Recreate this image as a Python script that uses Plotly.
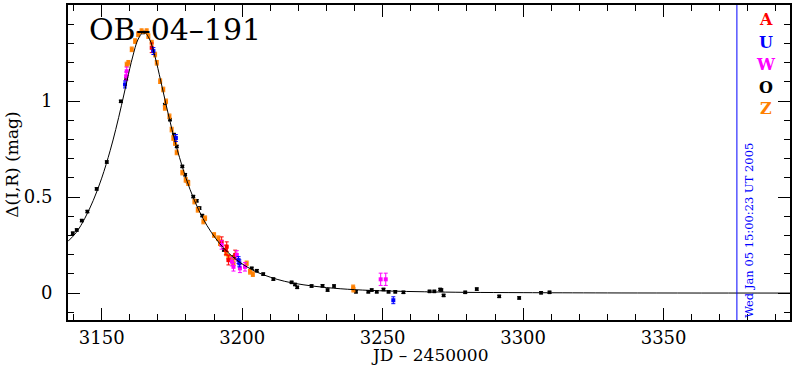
import plotly.graph_objects as go

# model light curve
model_t = [3138, 3141, 3144, 3147, 3150, 3153, 3155, 3157, 3159, 3161, 3163, 3165, 3167, 3169, 3171,
           3173, 3175, 3177, 3180, 3183, 3186, 3189, 3192, 3195, 3198, 3201, 3205, 3210, 3215, 3222,
           3230, 3240, 3252, 3265, 3280, 3300, 3330, 3395]
model_m = [0.270, 0.317, 0.390, 0.483, 0.599, 0.742, 0.853, 0.976, 1.106, 1.230, 1.324, 1.360, 1.324,
           1.230, 1.106, 0.976, 0.853, 0.742, 0.599, 0.483, 0.390, 0.317, 0.258, 0.211, 0.173, 0.143,
           0.111, 0.083, 0.062, 0.043, 0.029, 0.018, 0.011, 0.007, 0.004, 0.0025, 0.001, 0.0003]

# OGLE (O)
o_t = [3139.7, 3141.1, 3142.9, 3144.9, 3148.2, 3151.8, 3156.8, 3158.7, 3164.7, 3172.5, 3174.3, 3175.7,
       3176.7, 3178.7, 3179.7, 3180.6, 3182.6, 3183.8, 3184.8, 3185.8, 3193.5, 3197.1, 3203.4, 3205.2,
       3207.5, 3211.1, 3217.6, 3218.8, 3219.6, 3224.7, 3228.6, 3230.4, 3232.7, 3240.5, 3244.9, 3246.1,
       3247.9, 3250.3, 3252.1, 3254.5, 3257.4, 3266.7, 3268.4, 3270.5, 3270.9, 3271.7, 3279.4, 3283.5,
       3291.5, 3298.6, 3306.4, 3309.4]
o_m = [0.312, 0.329, 0.378, 0.425, 0.543, 0.683, 0.999, 1.117, 1.358, 0.982, 0.904, 0.826, 0.764, 0.660,
       0.617, 0.581, 0.503, 0.481, 0.443, 0.404, 0.225, 0.190, 0.129, 0.117, 0.099, 0.073, 0.056, 0.045,
       0.030, 0.037, 0.038, 0.016, 0.037, 0.007, 0.007, 0.016, 0.007, 0.019, 0.007, 0.007, 0.004, 0.009,
       0.009, 0.019, 0.016, -0.012, 0.004, 0.021, -0.017, -0.025, 0.002, 0.004]

# Z (orange)
z_t = [3158.9, 3159.5, 3160.7, 3161.9, 3163.0, 3164.2, 3166.0, 3166.6, 3167.8, 3169.0, 3169.6, 3170.8,
       3171.9, 3172.9, 3172.5, 3174.1, 3174.9, 3175.5, 3176.1, 3176.7, 3178.7, 3179.9, 3180.8, 3183.0,
       3184.2, 3186.8, 3186.2, 3190.0, 3191.5, 3192.1, 3194.3, 3195.1, 3196.3, 3196.9, 3201.6, 3202.8,
       3203.8, 3239.5, 3239.6]
z_m = [1.191, 1.200, 1.270, 1.313, 1.348, 1.365, 1.365, 1.339, 1.305, 1.243, 1.200, 1.104, 1.061, 0.999,
       0.965, 0.921, 0.852, 0.808, 0.782, 0.733, 0.628, 0.590, 0.573, 0.477, 0.434, 0.390, 0.373, 0.303,
       0.286, 0.260, 0.207, 0.190, 0.181, 0.155, 0.155, 0.111, 0.099, 0.030, 0.018]

# A (red)
a_t = [3167.8, 3192.7, 3194.5, 3194.2, 3195.1, 3197.5]
a_m = [1.278, 0.268, 0.242, 0.225, 0.172, 0.199]

# W (magenta)
w_t = [3158.9, 3158.7, 3192.7, 3196.9, 3198.1, 3199.2, 3201.0, 3196.3, 3249.3, 3251.1]
w_m = [1.156, 1.130, 0.251, 0.137, 0.199, 0.129, 0.137, 0.164, 0.072, 0.072]

# U (blue)
u_t = [3158.3, 3168.4, 3176.4, 3198.7, 3199.0, 3253.8]
u_m = [1.087, 1.261, 0.808, 0.172, 0.155, -0.037]

o_err = [0.006] * len(o_t)
z_err = [0.012] * len(z_t)
a_err = [0.025] * len(a_t)
w_err = [0.022] * (len(w_t) - 2) + [0.032, 0.032]
u_err = [0.018] * len(u_t)

x_tickvals = [3150, 3200, 3250, 3300, 3350]
x_ticktext = ["3150", "3200", "3250", "3300", "3350"]
y_tickvals = [0, 0.5, 1, 1.5]
y_ticktext = ["0", "0.5", "1", "1.5"]

obs_time = 3376.1
legend_labels = ["A", "U", "W", "O", "Z"]
legend_colors = ["#ff0000", "#0000ff", "#ff00ff", "#000000", "#ff8000"]
legend_y = [1.423, 1.305, 1.191, 1.069, 0.960]

FONT = "DejaVu Serif"
fig = go.Figure()

def add_pts(t, m, err, color, size=4):
    fig.add_trace(go.Scatter(
        x=t, y=m, mode="markers",
        marker=dict(symbol="square", size=size, color=color, line=dict(width=0)),
        error_y=dict(type="data", array=err, color=color, thickness=1, width=2),
        showlegend=False, hoverinfo="skip"))

add_pts(o_t, o_m, o_err, "#000000", 3.5)
add_pts(z_t, z_m, z_err, "#ff8000", 4)
add_pts(a_t, a_m, a_err, "#ff0000", 4)
add_pts(w_t, w_m, w_err, "#ff00ff", 4)
add_pts(u_t, u_m, u_err, "#0000ff", 4)

fig.add_trace(go.Scatter(x=model_t, y=model_m, mode="lines", line=dict(color="black", width=1, shape="spline"),
                         showlegend=False, hoverinfo="skip"))

fig.add_shape(type="line", xref="x", yref="paper", x0=obs_time, x1=obs_time, y0=0, y1=1,
              line=dict(color="#0000ff", width=1))

fig.add_annotation(x=obs_time + 1.0, y=-0.138, xref="x", yref="y", text="Wed Jan 05 15:00:23 UT 2005",
                   textangle=-90, showarrow=False, xanchor="left", yanchor="bottom",
                   font=dict(family=FONT, size=11.5, color="#0000ff"))

fig.add_annotation(x=3144.8, y=1.374, xref="x", yref="y", text="OB–04–191", showarrow=False,
                   xanchor="left", yanchor="middle", font=dict(family=FONT, size=30, color="black"))

for lab, col, yy in zip(legend_labels, legend_colors, legend_y):
    fig.add_annotation(x=3386.5, y=yy, xref="x", yref="y", text="<b>%s</b>" % lab, showarrow=False,
                       xanchor="center", yanchor="middle", font=dict(family=FONT, size=16, color=col))

# axis titles
fig.add_annotation(x=0.5, y=-0.146, xref="paper", yref="paper", text="JD – 2450000", showarrow=False,
                   xanchor="center", yanchor="bottom", borderpad=0,
                   font=dict(family=FONT, size=17, color="black"))
fig.add_annotation(x=-0.078, y=0.492, xref="paper", yref="paper", text="Δ(I,R) (mag)", showarrow=False,
                   textangle=-90, xanchor="center", yanchor="middle",
                   font=dict(family=FONT, size=17, color="black"))

axis_common = dict(showline=True, linecolor="black", linewidth=2, mirror="allticks", ticks="inside",
                   ticklen=12, tickwidth=1, tickcolor="black", showgrid=False, zeroline=False,
                   automargin=False, tickmode="array",
                   tickfont=dict(family=FONT, size=18, color="black"))

fig.update_xaxes(range=[3138, 3395], tickvals=x_tickvals, ticktext=x_ticktext, ticklabelstandoff=0,
                 minor=dict(ticks="inside", ticklen=6, dtick=10, tick0=3150, tickcolor="black", showgrid=False),
                 **axis_common)
fig.update_yaxes(range=[-0.14, 1.501], tickvals=y_tickvals, ticktext=y_ticktext, ticklabelstandoff=10,
                 minor=dict(ticks="inside", ticklen=6, dtick=0.1, tick0=0, tickcolor="black", showgrid=False),
                 **axis_common)

fig.update_layout(width=792, height=366, margin=dict(l=68, r=2, t=5, b=46),
                  plot_bgcolor="white", paper_bgcolor="white", showlegend=False)

fig.write_html("out.html", config={"displayModeBar": False},
               post_script="document.body.style.margin='0px';document.body.style.overflow='hidden';")
